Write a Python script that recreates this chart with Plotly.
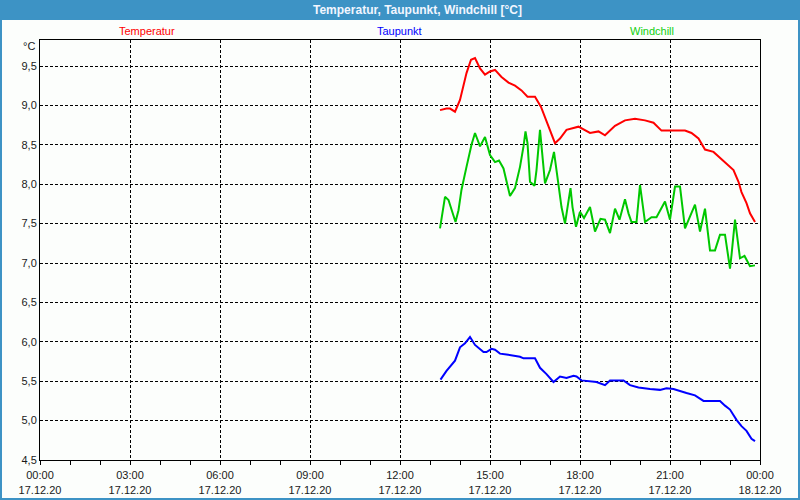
import plotly.graph_objects as go

DAY = "2020-12-17"

temp_times = ["13:20","13:33","13:40","13:50","14:00","14:13","14:22","14:30","14:40","14:50",
              "15:00","15:10","15:23","15:37","15:50","16:03","16:15","16:30","16:42","16:57",
              "17:10","17:20","17:33","17:57","18:20","18:37","18:50","19:10","19:30","19:50",
              "20:10","20:27","20:43","21:30","21:43","21:57","22:10","22:27","22:47","23:07",
              "23:17","23:23","23:33","23:40","23:50"]
temp_vals = [8.94,8.96,8.96,8.92,9.07,9.41,9.58,9.60,9.47,9.39,
             9.43,9.45,9.36,9.29,9.25,9.19,9.11,9.11,8.98,8.73,
             8.52,8.58,8.69,8.73,8.65,8.67,8.62,8.74,8.81,8.83,
             8.81,8.78,8.68,8.68,8.65,8.58,8.44,8.41,8.29,8.18,
             8.03,7.90,7.76,7.63,7.52]

dew_times = ["13:21","13:33","13:50","14:00","14:10","14:20","14:30","14:47","14:53","15:03",
             "15:10","15:20","15:33","16:00","16:07","16:30","16:40","16:53","17:07","17:20",
             "17:33","17:47","17:53","18:03","18:33","18:50","19:00","19:27","19:40","19:57",
             "20:20","20:40","20:53","21:07","21:33","21:50","22:07","22:40","22:50","23:00",
             "23:13","23:23","23:33","23:43","23:50"]
dew_vals = [5.52,5.63,5.76,5.93,5.98,6.06,5.96,5.87,5.87,5.91,
            5.90,5.85,5.84,5.81,5.79,5.79,5.67,5.59,5.49,5.56,
            5.54,5.57,5.56,5.51,5.49,5.45,5.51,5.51,5.45,5.42,
            5.40,5.39,5.41,5.40,5.35,5.32,5.25,5.25,5.19,5.14,
            5.01,4.93,4.87,4.77,4.74]

wind_times = ["13:20","13:23","13:30","13:37","13:43","13:51","13:57","14:03","14:13","14:23",
              "14:30","14:40","14:50","15:00","15:10","15:18","15:27","15:33","15:40","15:50",
              "16:00","16:07","16:11","16:15","16:20","16:29","16:33","16:40","16:50","17:00",
              "17:08","17:17","17:23","17:30","17:37","17:41","17:45","17:52","18:00","18:08",
              "18:20","18:30","18:41","18:50","19:00","19:10","19:19","19:30","19:37","19:43",
              "19:53","20:00","20:10","20:23","20:33","20:50","21:00","21:10","21:20","21:30",
              "21:50","22:00","22:10","22:20","22:30","22:40","22:50","23:00","23:03","23:10",
              "23:20","23:29","23:40","23:50"]
wind_vals = [7.44,7.55,7.84,7.80,7.69,7.52,7.67,7.93,8.22,8.50,
             8.65,8.48,8.60,8.37,8.28,8.30,8.20,8.03,7.85,7.95,
             8.22,8.48,8.67,8.52,8.03,7.98,8.18,8.69,8.01,8.18,
             8.41,7.99,7.71,7.50,7.80,7.95,7.71,7.46,7.65,7.57,
             7.71,7.40,7.56,7.55,7.38,7.69,7.55,7.81,7.63,7.52,
             7.52,7.99,7.52,7.58,7.58,7.78,7.55,7.97,7.97,7.44,
             7.74,7.40,7.69,7.16,7.16,7.36,7.36,6.93,7.10,7.55,
             7.06,7.09,6.96,6.97]

series_names = ["Temperatur", "Taupunkt", "Windchill"]
series_colors = ["#FF0000", "#0000FF", "#00C800"]
label_colors = ["#FF0000", "#0000FF", "#10D010"]
title_text = "Temperatur, Taupunkt, Windchill [°C]"

FONT = "Liberation Sans"

def ts(times):
    return [f"{DAY} {t}" for t in times]

fig = go.Figure()
for name, times, vals, col in zip(series_names,
                                  [temp_times, dew_times, wind_times],
                                  [temp_vals, dew_vals, wind_vals],
                                  series_colors):
    fig.add_trace(go.Scatter(x=ts(times), y=vals, mode="lines", name=name,
                             line=dict(color=col, width=2), showlegend=False))

BLUE = "#3D93C5"
W, H = 800, 500
L, R, T, B = 40, 40, 40, 40
pw, ph = W - L - R, H - T - B

def px(x):
    return (x - L) / pw

def py(y):
    return (H - B - y) / ph

shapes = [
    dict(type="rect", xref="paper", yref="paper", x0=px(0), x1=px(800), y0=py(20), y1=py(0),
         fillcolor=BLUE, line=dict(width=0), layer="below"),
    dict(type="rect", xref="paper", yref="paper", x0=px(0), x1=px(2), y0=py(500), y1=py(0),
         fillcolor=BLUE, line=dict(width=0), layer="below"),
    dict(type="rect", xref="paper", yref="paper", x0=px(798), x1=px(800), y0=py(500), y1=py(0),
         fillcolor=BLUE, line=dict(width=0), layer="below"),
    dict(type="rect", xref="paper", yref="paper", x0=px(0), x1=px(800), y0=py(500), y1=py(498),
         fillcolor=BLUE, line=dict(width=0), layer="below"),
]

annotations = [
    dict(text=f"<b>{title_text}</b>", xref="paper", yref="paper", x=px(417), y=py(10),
         showarrow=False, font=dict(family=FONT, size=12, color="#F2F6FF"),
         xanchor="center", yanchor="middle"),
    dict(text="°C", xref="paper", yref="paper", x=px(37), y=py(46), showarrow=False,
         font=dict(family=FONT, size=11, color="#1A1A1A"), xanchor="right", yanchor="middle"),
]
for name, cx, col in zip(series_names, [147, 399, 652], label_colors):
    annotations.append(dict(text=name, xref="paper", yref="paper", x=px(cx), y=py(31),
                            showarrow=False, font=dict(family=FONT, size=11, color=col),
                            xanchor="center", yanchor="middle"))

fig.update_layout(
    template="none",
    width=W, height=H,
    margin=dict(l=L, r=R, t=T, b=B, pad=0, autoexpand=False),
    paper_bgcolor="#FCFEFC", plot_bgcolor="#FCFEFC",
    separators=",.",
    font=dict(family=FONT, size=11, color="#1A1A1A"),
    shapes=shapes, annotations=annotations,
    xaxis=dict(type="date", range=["2020-12-17 00:00", "2020-12-18 00:00"],
               tick0="2020-12-17 00:00", dtick=3 * 3600000,
               tickformat="%H:%M<br>%d.%m.%y", automargin=False, ticklabelstandoff=1,
               showgrid=True, gridcolor="#000000", griddash="3px,2px", gridwidth=1,
               showline=True, linecolor="#000000", linewidth=1, mirror=True,
               ticks="outside", ticklen=4, tickcolor="#000000",
               minor=dict(dtick=3600000, ticks="outside", ticklen=4, tickcolor="#000000", showgrid=False),
               zeroline=False, fixedrange=True),
    yaxis=dict(range=[4.5, 9.83], tick0=4.5, dtick=0.5, tickformat=".1f", automargin=False,
               showgrid=True, gridcolor="#000000", griddash="3px,2px", gridwidth=1,
               showline=True, linecolor="#000000", linewidth=1, mirror=True,
               ticks="", zeroline=False, fixedrange=True),
)

fig.write_html("out.html")
